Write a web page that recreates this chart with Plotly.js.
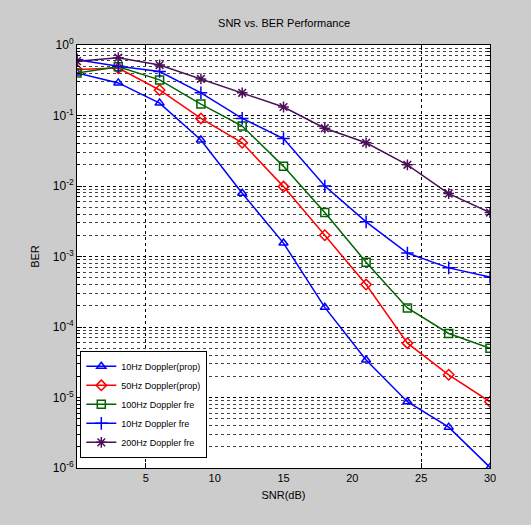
<!DOCTYPE html>
<html>
<head>
<meta charset="utf-8">
<script src="https://cdn.plot.ly/plotly-3.0.1.min.js"></script>
<style>html,body{margin:0;padding:0;background:#cccccc;}#chart{width:531px;height:525px;}</style>
</head>
<body>
<div id="chart"></div>
<script>
// SNR values (dB)
var snr = [0, 3, 6, 9, 12, 15, 18, 21, 24, 27, 30];
// BER series
var ber10a  = [0.40, 0.29, 0.15, 0.045, 0.0079, 0.00155, 0.00019, 0.000034, 0.0000087, 0.0000038, 0.00000102];
var ber50a  = [0.45, 0.47, 0.23, 0.091, 0.041, 0.0098, 0.0020, 0.00040, 0.000059, 0.000021, 0.0000087];
var ber100  = [0.40, 0.49, 0.32, 0.145, 0.071, 0.019, 0.0042, 0.00083, 0.000186, 0.000081, 0.000050];
var ber10b  = [0.62, 0.50, 0.42, 0.21, 0.091, 0.047, 0.0100, 0.0031, 0.00112, 0.00069, 0.00051];
var ber200  = [0.59, 0.66, 0.52, 0.33, 0.21, 0.132, 0.066, 0.041, 0.020, 0.0078, 0.0042];

var seriesNames = ["10Hz Doppler(prop)", "50Hz Doppler(prop)", "100Hz Doppler fre", "10Hz Doppler fre", "200Hz Doppler fre"];
var xTicks = [5, 10, 15, 20, 25, 30];
var xTickText = ["5", "10", "15", "20", "25", "30"];
var xGridVals = [5, 25];
var yTicks = [1, 0.1, 0.01, 0.001, 0.0001, 0.00001, 0.000001];
var yTickText = ["10<sup>0</sup>", "10<sup>-1</sup>", "10<sup>-2</sup>", "10<sup>-3</sup>", "10<sup>-4</sup>", "10<sup>-5</sup>", "10<sup>-6</sup>"];

var minorVals = [];
for (var e = -6; e < 0; e++) { for (var m = 2; m <= 9; m++) { minorVals.push(m * Math.pow(10, e)); } }

var font = {family: "Liberation Sans, Arial, sans-serif", size: 10, color: "#000"};

function tr(y, name, color, symbol, msize) {
  return {x: snr, y: y, name: name, type: "scatter", mode: "lines+markers",
    line: {color: color, width: 1.5},
    marker: {symbol: symbol, size: msize, color: color, line: {color: color, width: 1.5}}};
}

var data = [
  {x: [null], y: [null], xaxis: "x2", yaxis: "y", type: "scatter", mode: "markers", showlegend: false, hoverinfo: "skip"},
  tr(ber10a, seriesNames[0], "#0000ff", "triangle-up-open", 8),
  tr(ber50a, seriesNames[1], "#ff0000", "diamond-open", 8),
  tr(ber100, seriesNames[2], "#006400", "square-open", 8),
  tr(ber10b, seriesNames[3], "#0000ff", "cross-thin-open", 9),
  tr(ber200, seriesNames[4], "#4b0f5a", "asterisk-open", 9)
];

var layout = {
  width: 531, height: 525,
  paper_bgcolor: "#cccccc", plot_bgcolor: "#ffffff",
  margin: {l: 77, r: 41, t: 45, b: 57},
  font: font,
  showlegend: true,
  title: {text: "SNR vs. BER Performance", font: {family: font.family, size: 11, color: "#000"}, x: 0.535, xanchor: "center", y: 0.955, yanchor: "middle"},
  xaxis: {
    range: [0, 30], tickmode: "array", tickvals: xTicks, ticktext: xTickText,
    ticks: "", showgrid: false, zeroline: false,
    showline: true, linecolor: "#000", linewidth: 1, mirror: true,
    tickfont: {size: 11},
    title: {text: "SNR(dB)", font: {size: 11}, standoff: 8}
  },
  xaxis2: {
    overlaying: "x", range: [0, 30], tickmode: "array", tickvals: xGridVals,
    showticklabels: false, ticks: "inside", ticklen: 5, tickcolor: "#000",
    showgrid: true, gridcolor: "#000", griddash: "dot", gridwidth: 1,
    zeroline: false, showline: false, mirror: "ticks", side: "bottom", anchor: "y"
  },
  yaxis: {
    type: "log", range: [-6, 0], tickmode: "array", tickvals: yTicks, ticktext: yTickText,
    ticks: "inside", ticklen: 5, tickcolor: "#000",
    tickfont: {size: 12},
    showgrid: true, gridcolor: "#000", griddash: "dot", gridwidth: 1,
    minor: {tickmode: "array", tickvals: minorVals, showgrid: true, gridcolor: "#444", griddash: "dot", gridwidth: 1, ticks: "inside", ticklen: 3, tickcolor: "#000"},
    showline: true, linecolor: "#000", linewidth: 1, mirror: "ticks", zeroline: false,
    title: {text: "BER", font: {size: 11}, standoff: 10}
  },
  legend: {
    x: 0.008, y: 0.024, xanchor: "left", yanchor: "bottom",
    bgcolor: "#ffffff", bordercolor: "#000", borderwidth: 1,
    font: {family: font.family, size: 9, color: "#000"},
    tracegroupgap: 0, itemwidth: 30
  }
};

Plotly.newPlot("chart", data, layout, {displayModeBar: false, staticPlot: true});
</script>
</body>
</html>
